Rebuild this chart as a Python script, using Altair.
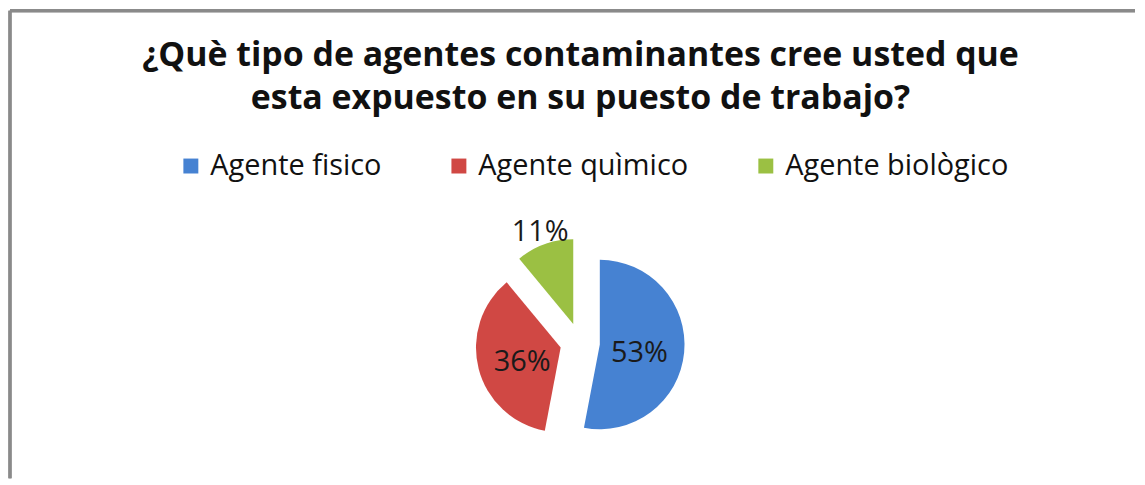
import altair as alt
import pandas as pd

categories = ["Agente fisico", "Agente quìmico", "Agente biològico"]
values = [53, 36, 11]
order_idx = [0, 1, 2]
colors = ["#4682D2", "#D04844", "#9BC043"]

title_lines = ["¿Què tipo de agentes contaminantes cree usted que",
               "esta expuesto en su puesto de trabajo?"]

df = pd.DataFrame({"cat": categories, "value": values, "idx": order_idx})

W, H = 1129, 469
CX, CY, R, D = 572, 333, 85, 20

base = alt.Chart(df).transform_joinaggregate(
    total="sum(value)"
).transform_window(
    cum="sum(value)", sort=[alt.SortField("idx")], frame=[None, 0]
).transform_calculate(
    mid="(datum.cum - datum.value/2)/datum.total*2*PI",
    px=f"{CX} + {D}*sin(datum.mid)",
    py=f"{CY} - {D}*cos(datum.mid)",
    lr=f"datum.value/datum.total < 0.15 ? {D}+98 : {D}+40",
    lx=f"{CX} + datum.lr*sin(datum.mid)",
    ly=f"{CY} - datum.lr*cos(datum.mid) + (datum.value/datum.total < 0.15 ? 0 : 5)",
    lab="datum.value + '%'",
)

color = alt.Color(
    "cat:N",
    scale=alt.Scale(domain=categories, range=colors),
    sort=categories,
    legend=alt.Legend(
        title=None, orient="none", direction="horizontal",
        legendX=167, legendY=141, symbolType="square", symbolSize=225,
        symbolStrokeWidth=0, labelFontSize=29, labelFont="Open Sans",
        labelColor="#111", columnPadding=63, symbolOffset=0, labelOffset=5,
        labelLimit=500,
    ),
)

pie = base.mark_arc(outerRadius=R).encode(
    theta=alt.Theta("value:Q", stack=True),
    order=alt.Order("idx:Q"),
    x=alt.X("px:Q", scale=None),
    y=alt.Y("py:Q", scale=None),
    color=color,
)

labels = base.mark_text(fontSize=29, font="Open Sans", color="#1a1a1a").encode(
    x=alt.X("lx:Q", scale=None),
    y=alt.Y("ly:Q", scale=None),
    text="lab:N",
)

# chart frame: only the top and left edges fall inside the picture
frame_top = alt.Chart(df).mark_rule(color="#8a8a8a", strokeWidth=3).encode(
    x=alt.value(0), x2=alt.value(W), y=alt.value(0)
)
frame_left = alt.Chart(df).mark_rule(color="#8a8a8a", strokeWidth=3).encode(
    x=alt.value(0), y=alt.value(0), y2=alt.value(H)
)

chart = alt.layer(frame_top, frame_left, pie, labels).properties(
    width=W, height=H,
    padding=0,
    background="white",
    title=alt.TitleParams(
        text=title_lines, fontSize=34, font="Open Sans", fontWeight="bold",
        color="#111", anchor="middle", lineHeight=43, offset=-107, dx=8,
    ),
).configure_view(
    stroke=None
)

chart.save("out.html", embed_options={"renderer": "svg", "actions": False})
